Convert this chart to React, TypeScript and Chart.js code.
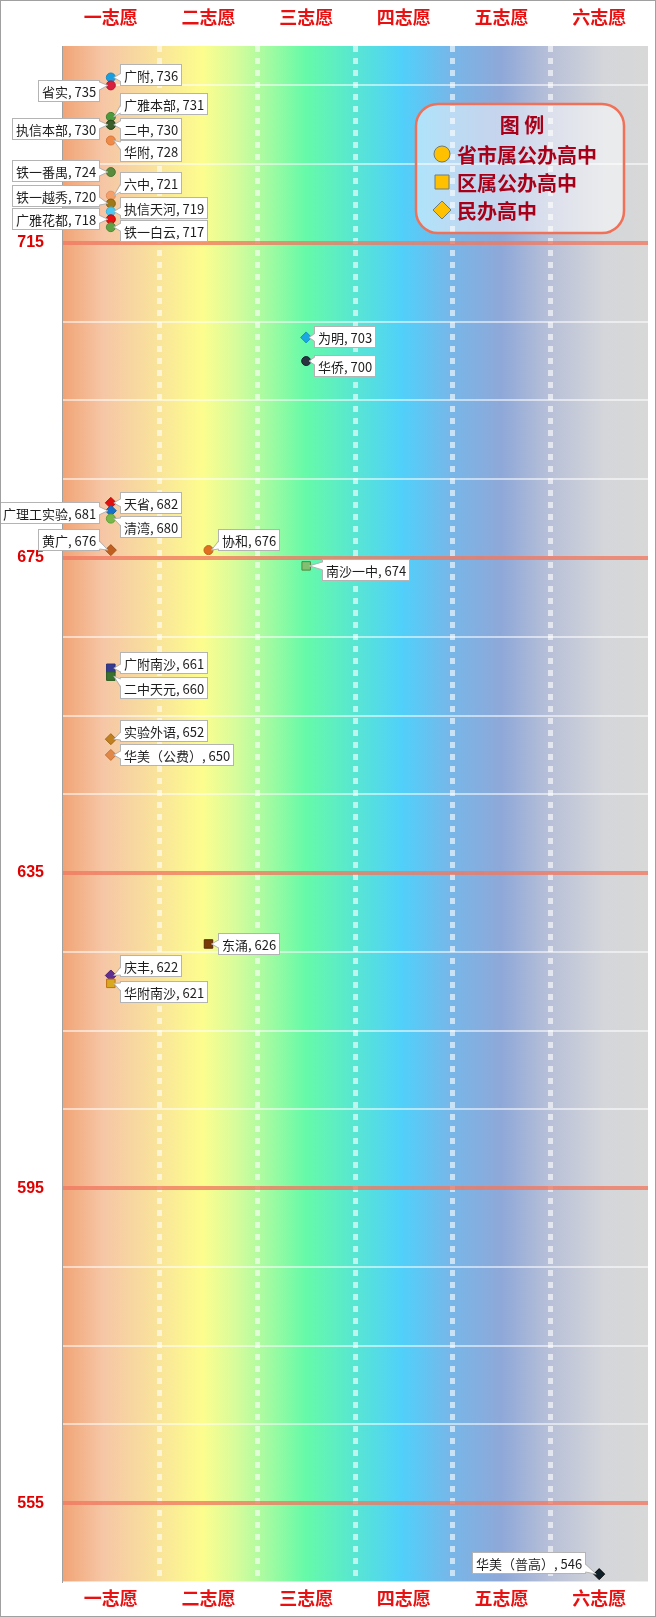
import { useEffect, useRef } from 'react';
import { Chart, registerables } from 'chart.js';
import type { Plugin } from 'chart.js';

Chart.register(...registerables);

const CHOICES = ['一志愿', '二志愿', '三志愿', '四志愿', '五志愿', '六志愿'];
const Y_TICKS = [
  545, 555, 565, 575, 585, 595, 605, 615, 625, 635, 645, 655, 665, 675, 685, 695, 705, 715, 725, 735,
];
const MAJOR_TICKS = [715, 675, 635, 595, 555];
const LEGEND_TITLE = '图 例';
const LEGEND_ITEMS = ['省市属公办高中', '区属公办高中', '民办高中'];

// kind: 0 = 省市属公办 (circle), 1 = 区属公办 (square), 2 = 民办 (diamond)
const SCHOOLS = [
  '广附', '省实', '广雅本部', '执信本部', '二中', '华附', '铁一番禺', '六中', '铁一越秀', '执信天河',
  '广雅花都', '铁一白云', '为明', '华侨', '天省', '广理工实验', '清湾', '黄广', '协和', '南沙一中',
  '广附南沙', '二中天元', '实验外语', '华美（公费）', '东涌', '庆丰', '华附南沙', '华美（普高）',
];
const SCORES = [
  736, 735, 731, 730, 730, 728, 724, 721, 720, 719,
  718, 717, 703, 700, 682, 681, 680, 676, 676, 674,
  661, 660, 652, 650, 626, 622, 621, 546,
];
const CHOICE_NO = [
  1, 1, 1, 1, 1, 1, 1, 1, 1, 1,
  1, 1, 3, 3, 1, 1, 1, 1, 2, 3,
  1, 1, 1, 1, 2, 1, 1, 6,
];
const KINDS = [
  0, 0, 0, 0, 0, 0, 0, 0, 0, 0,
  0, 0, 2, 0, 2, 2, 0, 2, 0, 1,
  1, 1, 2, 2, 1, 2, 1, 2,
];

// styling per school
const POINT_COLORS = [
  '#1aa0e0', '#d81e3c', '#4c9a3c', '#3c5e2c', '#3c5e2c', '#f08a48', '#5a8a3c', '#f4a06a', '#a07818', '#4cc8f4',
  '#e81010', '#62a044', '#1aa8e0', '#2a3440', '#e01010', '#1870c8', '#78b848', '#c06020', '#e07020', '#80c070',
  '#383c90', '#3a7030', '#c08020', '#e08848', '#7a3a08', '#603090', '#d8a820', '#102028',
];
const POINT_BORDERS = [
  '#1a8ac0', '#b01830', '#3c8030', '#2c4a20', '#2c4a20', '#d87838', '#4a7830', '#e09060', '#806010', '#40b0d8',
  '#c00808', '#508838', '#1890c8', '#1a2430', '#c00808', '#1060a8', '#60a038', '#a05018', '#c06018', '#508a40',
  '#283078', '#2a5a20', '#a06818', '#c87038', '#5a2a04', '#502078', '#c07010', '#000000',
];
const LABEL_SIDE = [
  'r', 'l', 'r', 'l', 'r', 'r', 'l', 'r', 'l', 'r',
  'l', 'r', 'r', 'r', 'r', 'l', 'r', 'l', 'r', 'r',
  'r', 'r', 'r', 'r', 'r', 'r', 'r', 'l',
];
const LABEL_DY = [
  -3, 6, -13, 4, 4, 10, -1, -13, -8, -3,
  0, 4, 0, 5, 0, 2, 8, -10, -10, 4,
  -5, 12, -8, 0, 0, -9, 9, -11,
];
const LABEL_GAP = [
  9, 11, 9, 11, 9, 9, 11, 9, 11, 9,
  11, 9, 8, 8, 9, 11, 9, 11, 9, 16,
  9, 9, 9, 9, 9, 9, 9, 13,
];

const POINT_STYLES = ['circle', 'rect', 'rectRot'] as const;
const POINT_RADII = [4.5, 6, 5.5];

const CJK = '"Noto Sans CJK SC", "Noto Sans", sans-serif';

const backgroundPlugin: Plugin<'scatter'> = {
  id: 'bandBackground',
  beforeDraw(chart) {
    const { ctx, chartArea: a } = chart;
    const g = ctx.createLinearGradient(a.left, 0, a.right, 0);
    g.addColorStop(0, '#f1a374');
    g.addColorStop(0.07, '#f6c6a6');
    g.addColorStop(0.14, '#f8dc9e');
    g.addColorStop(0.24, '#fdfd8e');
    g.addColorStop(0.3, '#d4fc9c');
    g.addColorStop(0.415, '#66faa8');
    g.addColorStop(0.5, '#58e6d2');
    g.addColorStop(0.58, '#50d0fa');
    g.addColorStop(0.666, '#78b6e8');
    g.addColorStop(0.75, '#8ea8d8');
    g.addColorStop(0.835, '#b9c1d8');
    g.addColorStop(0.926, '#d4d6da');
    g.addColorStop(1, '#d8d8d8');
    ctx.save();
    ctx.fillStyle = g;
    ctx.fillRect(a.left, a.top, a.width, a.height);
    ctx.restore();
  },
};

const labelPlugin: Plugin<'scatter'> = {
  id: 'schoolLabels',
  afterDatasetsDraw(chart) {
    const { ctx } = chart;
    ctx.save();
    ctx.font = `13px ${CJK}`;
    ctx.textBaseline = 'middle';
    ctx.lineWidth = 1;
    chart.data.datasets.forEach((ds, di) => {
      const meta = chart.getDatasetMeta(di);
      meta.data.forEach((el, j) => {
        const i = (ds.data[j] as any).i as number;
        const text = `${SCHOOLS[i]}, ${SCORES[i]}`;
        const w = Math.round(ctx.measureText(text).width + 8);
        const h = 22;
        const right = LABEL_SIDE[i] === 'r';
        const cy = el.y + LABEL_DY[i];
        const bx = Math.round(right ? el.x + LABEL_GAP[i] : el.x - LABEL_GAP[i] - w);
        const by = Math.round(cy - h / 2);

        ctx.fillStyle = '#ffffff';
        ctx.strokeStyle = '#b4b4b4';
        ctx.fillRect(bx, by, w, h);
        ctx.strokeRect(bx + 0.5, by + 0.5, w - 1, h - 1);

        // pointer
        const edge = right ? bx + 1.5 : bx + w - 1.5;
        const ay = Math.min(Math.max(el.y, by + 6), by + h - 6);
        const tip = right ? el.x + 3 : el.x - 3;
        ctx.beginPath();
        ctx.moveTo(edge, ay - 4);
        ctx.lineTo(tip, el.y);
        ctx.lineTo(edge, ay + 4);
        ctx.closePath();
        ctx.fill();
        ctx.beginPath();
        ctx.moveTo(right ? bx + 0.5 : bx + w - 0.5, ay - 4);
        ctx.lineTo(tip, el.y);
        ctx.lineTo(right ? bx + 0.5 : bx + w - 0.5, ay + 4);
        ctx.stroke();

        ctx.fillStyle = '#1e1e1e';
        ctx.fillText(text, bx + 4, by + h / 2 + 1);
      });
    });
    ctx.restore();
  },
};

const legendPlugin: Plugin<'scatter'> = {
  id: 'schoolLegend',
  afterDraw(chart) {
    const { ctx, chartArea: a } = chart;
    const x = a.left + 354;
    const y = a.top + 58;
    const w = 208;
    const h = 129;
    ctx.save();
    ctx.beginPath();
    ctx.roundRect(x, y, w, h, 22);
    ctx.fillStyle = 'rgba(255,255,255,0.5)';
    ctx.fill();
    ctx.lineWidth = 2.5;
    ctx.strokeStyle = '#f07058';
    ctx.stroke();

    ctx.fillStyle = '#a80018';
    ctx.textBaseline = 'middle';
    ctx.textAlign = 'center';
    ctx.font = `bold 20px ${CJK}`;
    ctx.fillText(LEGEND_TITLE, x + w / 2 + 2, y + 21);

    ctx.textAlign = 'left';
    LEGEND_ITEMS.forEach((item, k) => {
      const my = y + 50 + k * 28;
      const mx = x + 26;
      ctx.beginPath();
      if (k === 0) {
        ctx.arc(mx, my, 8, 0, Math.PI * 2);
      } else if (k === 1) {
        ctx.rect(mx - 7, my - 7, 14, 14);
      } else {
        ctx.moveTo(mx, my - 9);
        ctx.lineTo(mx + 9, my);
        ctx.lineTo(mx, my + 9);
        ctx.lineTo(mx - 9, my);
        ctx.closePath();
      }
      ctx.fillStyle = '#ffc000';
      ctx.fill();
      ctx.lineWidth = 1;
      ctx.strokeStyle = '#6c7c7c';
      ctx.stroke();

      ctx.fillStyle = '#a80018';
      ctx.font = `bold 20px ${CJK}`;
      ctx.fillText(item, x + 41, my + 1);
    });
    ctx.restore();
  },
};

export default function App() {
  const canvasRef = useRef<HTMLCanvasElement>(null);

  useEffect(() => {
    document.body.style.margin = '0';
    const canvas = canvasRef.current;
    if (!canvas) return;

    const datasets = POINT_STYLES.map((style, kind) => {
      const idx = SCHOOLS.map((_, i) => i).filter((i) => KINDS[i] === kind);
      return {
        label: LEGEND_ITEMS[kind],
        data: idx.map((i) => ({ x: CHOICES[CHOICE_NO[i] - 1], y: SCORES[i], i })),
        pointStyle: style,
        pointRadius: POINT_RADII[kind],
        pointBackgroundColor: idx.map((i) => POINT_COLORS[i]),
        pointBorderColor: idx.map((i) => POINT_BORDERS[i]),
        pointBorderWidth: 1,
        showLine: false,
      };
    });

    const tickFont = { family: CJK, size: 18, weight: 'bold' as const };

    const chart = new Chart(canvas, {
      type: 'scatter',
      data: { datasets: datasets as any },
      options: {
        responsive: true,
        maintainAspectRatio: false,
        animation: false,
        layout: { padding: 0 },
        plugins: {
          legend: { display: false },
          tooltip: { enabled: false },
        },
        scales: {
          x: {
            type: 'category',
            labels: CHOICES,
            position: 'bottom',
            offset: true,
            grid: {
              offset: true,
              drawTicks: false,
              color: (c: any) =>
                c.index > 0 && c.index < CHOICES.length ? 'rgba(255,255,255,0.6)' : 'rgba(0,0,0,0)',
              lineWidth: 5,
            },
            border: { display: false, dash: [6, 6] },
            ticks: { color: '#e81010', font: tickFont, padding: 5 },
            afterFit: (s: any) => {
              s.height = 34;
            },
          },
          x2: {
            type: 'category',
            labels: CHOICES,
            position: 'top',
            offset: true,
            grid: { display: false },
            border: { display: false },
            ticks: { color: '#e81010', font: tickFont, padding: 10 },
            afterFit: (s: any) => {
              s.height = 45;
            },
          },
          y: {
            type: 'linear',
            min: 545,
            max: 740,
            afterBuildTicks: (s: any) => {
              s.ticks = Y_TICKS.map((v) => ({ value: v }));
            },
            grid: {
              drawTicks: false,
              color: (c: any) =>
                MAJOR_TICKS.includes(c.tick?.value) ? 'rgba(240,120,96,0.78)' : 'rgba(255,255,255,0.55)',
              lineWidth: (c: any) => (MAJOR_TICKS.includes(c.tick?.value) ? 4 : 2),
            },
            border: { display: true, color: '#a0a0a0', width: 1 },
            ticks: {
              color: '#e00000',
              padding: 18,
              font: { family: '"Liberation Sans", Arial, sans-serif', size: 16, weight: 'bold' },
              callback: (v: any) => (MAJOR_TICKS.includes(Number(v)) ? String(v) : ''),
            },
            afterFit: (s: any) => {
              s.width = 61;
            },
          },
        },
      },
      plugins: [backgroundPlugin, labelPlugin, legendPlugin],
    });

    return () => {
      chart.destroy();
    };
  }, []);

  return (
    <div
      style={{
        width: 656,
        height: 1617,
        border: '1px solid #a0a0a0',
        boxSizing: 'border-box',
        position: 'relative',
        background: '#fff',
      }}
    >
      <canvas ref={canvasRef} aria-label="广州高中录取分数线志愿分布图" />
    </div>
  );
}
